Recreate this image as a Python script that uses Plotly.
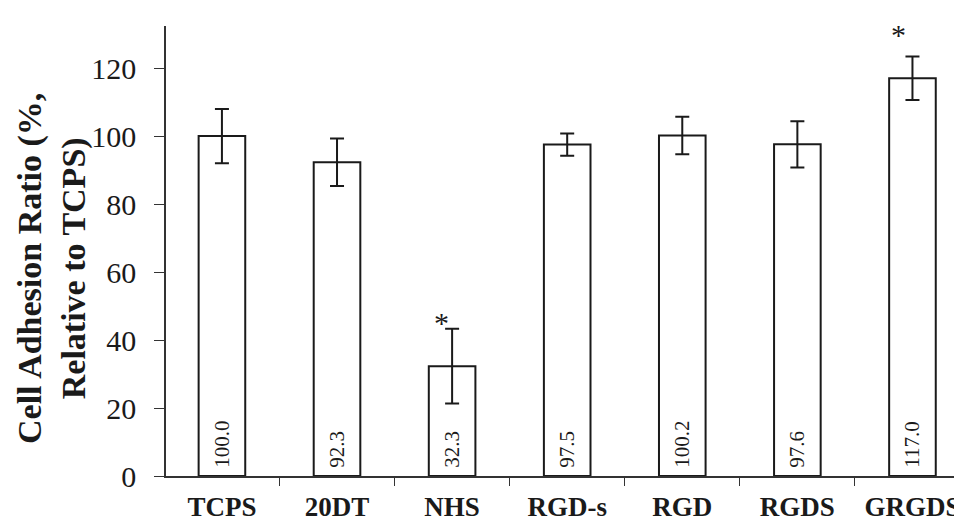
import plotly.graph_objects as go

categories = ["TCPS", "20DT", "NHS", "RGD-s", "RGD", "RGDS", "GRGDS"]
values = [100.0, 92.3, 32.3, 97.5, 100.2, 97.6, 117.0]
errors = [8.0, 7.0, 11.0, 3.3, 5.5, 6.8, 6.4]
value_labels = ["100.0", "92.3", "32.3", "97.5", "100.2", "97.6", "117.0"]
significant = ["NHS", "GRGDS"]
y_ticks = [0, 20, 40, 60, 80, 100, 120]
y_title = "Cell Adhesion Ratio (%,<br>Relative to TCPS)"

# annotation pixel offsets (style only)
star_offsets = {"NHS": (-11, -12), "GRGDS": (-14, 4)}

serif = "Liberation Serif, Times New Roman, serif"
ink = "#1a1a1a"

fig = go.Figure()
fig.add_trace(go.Bar(
    x=categories,
    y=values,
    width=0.405,
    marker=dict(color="white", line=dict(color=ink, width=2)),
    error_y=dict(type="data", array=errors, visible=True, color=ink,
                 thickness=2, width=7),
    text=value_labels,
    texttemplate="\u00a0%{text}",
    textposition="inside",
    insidetextanchor="start",
    textangle=-90,
    textfont=dict(family=serif, size=21, color=ink),
    constraintext="none",
    showlegend=False,
))

for cat, v, e in zip(categories, values, errors):
    if cat in significant:
        dx, dy = star_offsets[cat]
        fig.add_annotation(x=cat, y=v + e, text="*", showarrow=False,
                           yanchor="bottom", xshift=dx, yshift=dy,
                           font=dict(family=serif, size=30, color=ink))

# y-axis title as a rotated annotation (sits slightly below plot centre)
fig.add_annotation(xref="paper", yref="paper", x=0, y=0.46,
                   xanchor="center", yanchor="middle", xshift=-114,
                   text=y_title, textangle=-90, showarrow=False,
                   font=dict(family=serif, size=34, color=ink, weight="bold"))

fig.update_layout(
    width=962, height=531,
    margin=dict(l=158, r=0, t=18, b=63),
    paper_bgcolor="white", plot_bgcolor="white",
    font=dict(family=serif, color=ink),
)
fig.update_xaxes(
    range=[-0.486, 6.5],
    showline=True, linecolor="#333", linewidth=1.5,
    ticks="outside", tickson="boundaries", ticklen=8, tickcolor="#333",
    tickfont=dict(family=serif, size=27, color=ink, weight="bold"),
    ticklabelstandoff=6,
    ticklabeloverflow="allow",
    showgrid=False, zeroline=False,
)
fig.update_yaxes(
    range=[0, 132.4],
    tickvals=y_ticks,
    showline=True, linecolor="#333", linewidth=1.5,
    ticks="outside", ticklen=10, tickcolor="#333",
    tickfont=dict(family=serif, size=30, color=ink),
    ticklabelstandoff=12,
    showgrid=False, zeroline=False,
)

fig.write_html("out.html")
